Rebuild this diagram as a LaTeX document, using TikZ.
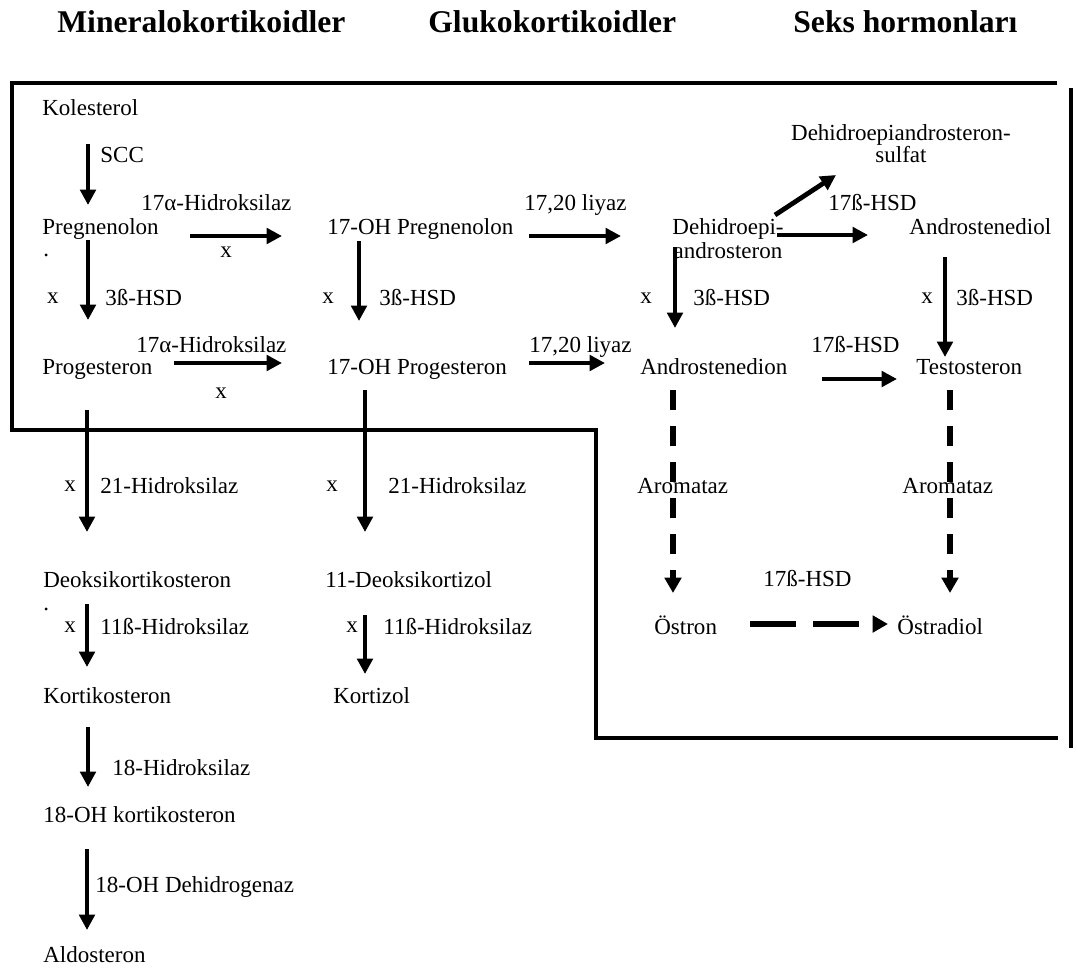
\documentclass[tikz,border=0pt]{standalone}
\usepackage{fontspec}
\setmainfont{Liberation Serif}
\usetikzlibrary{arrows.meta}

\tikzset{
	lbl/.style={anchor=base west, inner sep=0pt, font=\fontsize{12}{14}\selectfont},
	xsign/.style={lbl, anchor=base},
	grouptitle/.style={anchor=base west, inner sep=0pt, font=\fontsize{16.5}{18}\selectfont\bfseries},
	arr/.style={line width=2.5pt, -{Triangle[length=8pt, width=8pt]}},
	darr/.style={line width=2.7pt, -{Triangle[length=8pt, width=8.5pt]}},
	border/.style={line width=2.5pt},
}

\begin{document}
\begin{tikzpicture}[x=0.5217pt, y=-0.5217pt]
	\useasboundingbox (0,0) rectangle (1077,968);
	% Group titles
	\node[grouptitle] (tmin) at (57,32) {Mineralokortikoidler};
	\node[grouptitle] (tglu) at (428,32) {Glukokortikoidler};
	\node[grouptitle] (tsex) at (793,32) {Seks hormonları};
	% Frame
	\draw[border] (1057,83) -- (12,83) -- (12,430) -- (596,430) -- (596,738) -- (1058,738);
	\draw[border] (1071,88) -- (1071,748);
	% Steroids
	\node[lbl] (kol) at (42,115) {Kolesterol};
	\node[lbl] (preg) at (42,234) {Pregnenolon};
	\node[lbl] (ohpreg) at (327,234) {17-OH Pregnenolon};
	\node[lbl] (prog) at (42,374) {Progesteron};
	\node[lbl] (ohprog) at (327,374) {17-OH Progesteron};
	\node[lbl, anchor=north, align=center, font=\fontsize{12}{12.5}\selectfont] (dhea) at (728,218) {Dehidroepi-\\androsteron};
	\node[lbl, anchor=north, align=center, font=\fontsize{12}{11.5}\selectfont] (dheas) at (901,124) {Dehidroepiandrosteron-\\sulfat};
	\node[lbl] (adiol) at (909,234) {Androstenediol};
	\node[lbl] (adion) at (640,374) {Androstenedion};
	\node[lbl] (testo) at (916,374) {Testosteron};
	\node[lbl] (estron) at (654,634) {Östron};
	\node[lbl] (estradiol) at (897,634) {Östradiol};
	\node[lbl] (doc) at (43,587) {Deoksikortikosteron};
	\node[lbl] (dkort) at (325,587) {11-Deoksikortizol};
	\node[lbl] (kort) at (43,703) {Kortikosteron};
	\node[lbl] (kortizol) at (333,703) {Kortizol};
	\node[lbl] (ohkort) at (43,822) {18-OH kortikosteron};
	\node[lbl] (aldo) at (43,962) {Aldosteron};
	% Enzymes
	\node[lbl] (scc) at (100,162) {SCC};
	\node[lbl] (hyda) at (141,210) {17α-Hidroksilaz};
	\node[lbl] (hydb) at (136,352) {17α-Hidroksilaz};
	\node[lbl] (hsda) at (105,305) {3ß-HSD};
	\node[lbl] (hsdb) at (379,305) {3ß-HSD};
	\node[lbl] (hsdc) at (693,305) {3ß-HSD};
	\node[lbl] (hsdd) at (956,305) {3ß-HSD};
	\node[lbl] (lya) at (524,210) {17,20 liyaz};
	\node[lbl] (lyb) at (529,352) {17,20 liyaz};
	\node[lbl] (hsde) at (828,210) {17ß-HSD};
	\node[lbl] (hsdf) at (811,352) {17ß-HSD};
	\node[lbl] (hsdg) at (763,586) {17ß-HSD};
	\node[lbl] (aroma) at (637,493) {Aromataz};
	\node[lbl] (aromb) at (902,493) {Aromataz};
	\node[lbl] (hyd21a) at (100,493) {21-Hidroksilaz};
	\node[lbl] (hyd21b) at (388,493) {21-Hidroksilaz};
	\node[lbl] (hyd11a) at (100,634) {11ß-Hidroksilaz};
	\node[lbl] (hyd11b) at (383,634) {11ß-Hidroksilaz};
	\node[lbl] (hyd18) at (112,775) {18-Hidroksilaz};
	\node[lbl] (dhg18) at (95,892) {18-OH Dehidrogenaz};
	% Blocked steps
	\foreach \i/\px/\py in {1/226/257, 2/53/303, 3/328/303, 4/221/398, 5/646/303,
		6/927/303, 7/70/491, 8/332/491, 9/70/632, 10/352/632}{
		\node[xsign] (x\i) at (\px,\py) {x};
	}
	\node[lbl] (dota) at (43,256) {.};
	\node[lbl] (dotb) at (43,610) {.};
	% Arrow ends
	\foreach \n/\px/\py in {kolS/88/144, pregN/88/205, pregE/190/236, ohpregW/282/236,
		pregS/88/240, progN/88/320, ohpregS/359/241, ohprogN/359/321,
		progE/174/363, ohprogW/282/363, ohpregE/529/236, dheaW/621/236,
		ohprogE/529/363, adionW/605/363, dheaNE/775/215, dheasS/836/175,
		dheaE/777/235, adiolW/868/235, dheaS/675/247, adionN/675/328,
		adiolS/945/257, testoN/945/357, adionE/822/379, testoW/897/379,
		progS/87/410, docN/87/532, ohprogS/365/390, dkortN/365/532,
		docS/87/604, kortN/87/667, dkortS/365/615, kortizolN/365/674,
		kortS/88/727, ohkortN/88/787, ohkortS/87/849, aldoN/87/930,
		adionS/673/390, estronN/673/593, testoS/950/390, estradiolN/950/593,
		estronE/750/624, estradiolW/888/624}{
		\coordinate (\n) at (\px,\py);
	}
	% Solid steps
	\foreach \a/\b in {kolS/pregN, pregE/ohpregW, pregS/progN, ohpregS/ohprogN,
		progE/ohprogW, ohpregE/dheaW, ohprogE/adionW, dheaNE/dheasS, dheaE/adiolW,
		dheaS/adionN, adiolS/testoN, adionE/testoW, progS/docN, ohprogS/dkortN,
		docS/kortN, dkortS/kortizolN, kortS/ohkortN, ohkortS/aldoN}{
		\draw[arr] (\a) -- (\b);
	}
	% Aromatase and estradiol steps
	\draw[darr, dash pattern=on 10.4pt off 8.4pt] (adionS) -- (estronN);
	\draw[darr, dash pattern=on 10.4pt off 8.4pt] (testoS) -- (estradiolN);
	\draw[darr, dash pattern=on 24pt off 8.9pt] (estronE) -- (estradiolW);
\end{tikzpicture}
\end{document}
